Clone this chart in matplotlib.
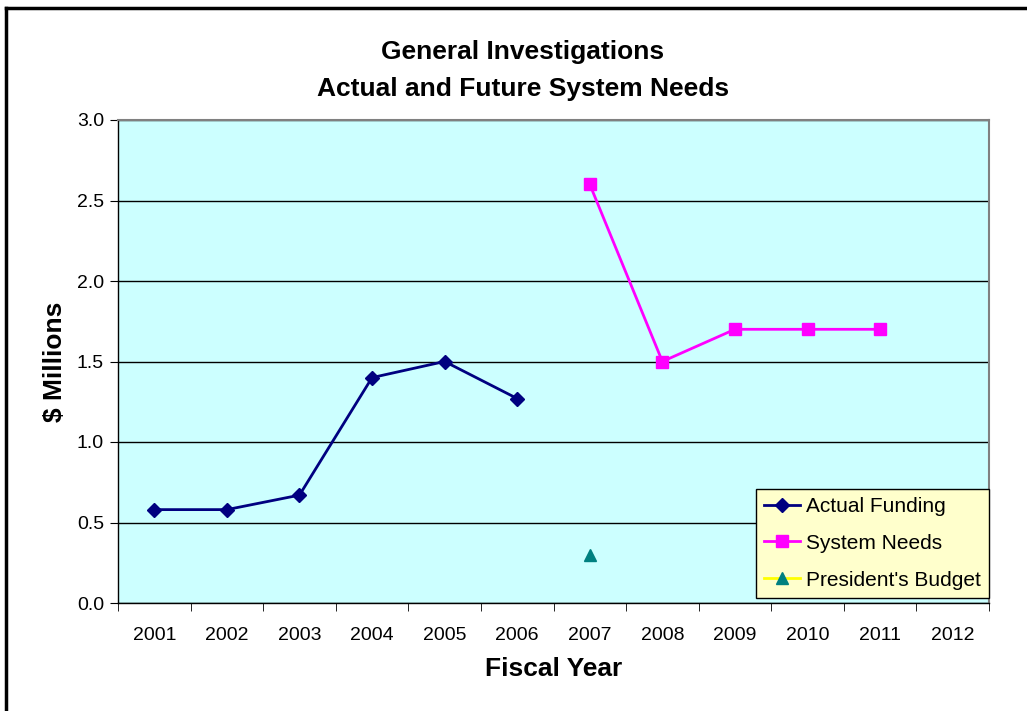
import numpy as np
import matplotlib.pyplot as plt
from matplotlib.lines import Line2D

plt.rcParams['font.family'] = ['Liberation Sans', 'DejaVu Sans']

years = ['2001', '2002', '2003', '2004', '2005', '2006',
         '2007', '2008', '2009', '2010', '2011', '2012']

actual_years = ['2001', '2002', '2003', '2004', '2005', '2006']
actual_funding = [0.58, 0.58, 0.67, 1.40, 1.50, 1.27]

needs_years = ['2007', '2008', '2009', '2010', '2011']
system_needs = [2.60, 1.50, 1.70, 1.70, 1.70]

budget_years = ['2007']
presidents_budget = [0.30]

title_lines = ['General Investigations', 'Actual and Future System Needs']

pos = {y: i for i, y in enumerate(years)}

fig = plt.figure(figsize=(10.27, 7.11), dpi=100)
ax = fig.add_axes([118 / 1027, 1 - 603 / 711, 871 / 1027, 483 / 711])
ax.set_facecolor('#CCFFFF')

# outer chart border (only left and top are inside the picture)
fig.add_artist(Line2D([6 / 1027, 6 / 1027], [-0.1, 1 - 8 / 711], color='black', lw=2.5,
                      transform=fig.transFigure))
fig.add_artist(Line2D([6 / 1027, 1.1], [1 - 8 / 711, 1 - 8 / 711], color='black', lw=2.5,
                      transform=fig.transFigure))

ax.plot([pos[y] for y in actual_years], actual_funding, color='#000080', lw=2,
        marker='D', markersize=7.5, label='Actual Funding', zorder=3)
ax.plot([pos[y] for y in needs_years], system_needs, color='#FF00FF', lw=2,
        marker='s', markersize=8.5, label='System Needs', zorder=3)
ax.plot([pos[y] for y in budget_years], presidents_budget, color='#FFFF00', lw=2,
        marker='^', markersize=9, markerfacecolor='#008080', markeredgecolor='#008080',
        label="President's Budget", zorder=3)

ax.set_xlim(-0.5, len(years) - 0.5)
ax.set_ylim(0, 3.0)
ax.set_yticks(np.arange(0, 3.01, 0.5))
ax.set_yticklabels(['%.1f' % v for v in np.arange(0, 3.01, 0.5)], fontsize=14)
ax.set_xticks(range(len(years)))
ax.set_xticklabels(years, fontsize=14)
ax.set_xticks(np.arange(-0.5, len(years), 1), minor=True)
ax.tick_params(axis='x', which='major', length=0, pad=17)
ax.tick_params(axis='x', which='minor', length=6, direction='out', color='black')
ax.tick_params(axis='y', length=6, direction='out', color='black', pad=4)

ax.grid(axis='y', color='black', lw=1)
ax.set_axisbelow(True)

for s in ['top', 'right']:
    ax.spines[s].set_color('#808080')
    ax.spines[s].set_linewidth(1.5)
for s in ['left', 'bottom']:
    ax.spines[s].set_color('black')
    ax.spines[s].set_linewidth(1)

ax.set_xlabel('Fiscal Year', fontsize=19, fontweight='bold', labelpad=10)
ax.set_ylabel('$ Millions', fontsize=19, fontweight='bold', labelpad=7.5)

# title is centred on the whole chart, not on the plot area
fig.text(523 / 1027, 1 - 52 / 711, title_lines[0], fontsize=19, fontweight='bold',
         ha='center', va='center')
fig.text(523 / 1027, 1 - 89 / 711, title_lines[1], fontsize=19, fontweight='bold',
         ha='center', va='center')

leg = ax.legend(loc='lower right', bbox_to_anchor=(1.0, 5 / 483), borderaxespad=0,
                fontsize=15, frameon=True, fancybox=False, facecolor='#FFFFCC',
                edgecolor='black', framealpha=1, handlelength=1.7, labelspacing=0.86,
                borderpad=0.4, handletextpad=0.3)
leg.get_frame().set_linewidth(1)

fig.savefig('out.png', dpi=100)
